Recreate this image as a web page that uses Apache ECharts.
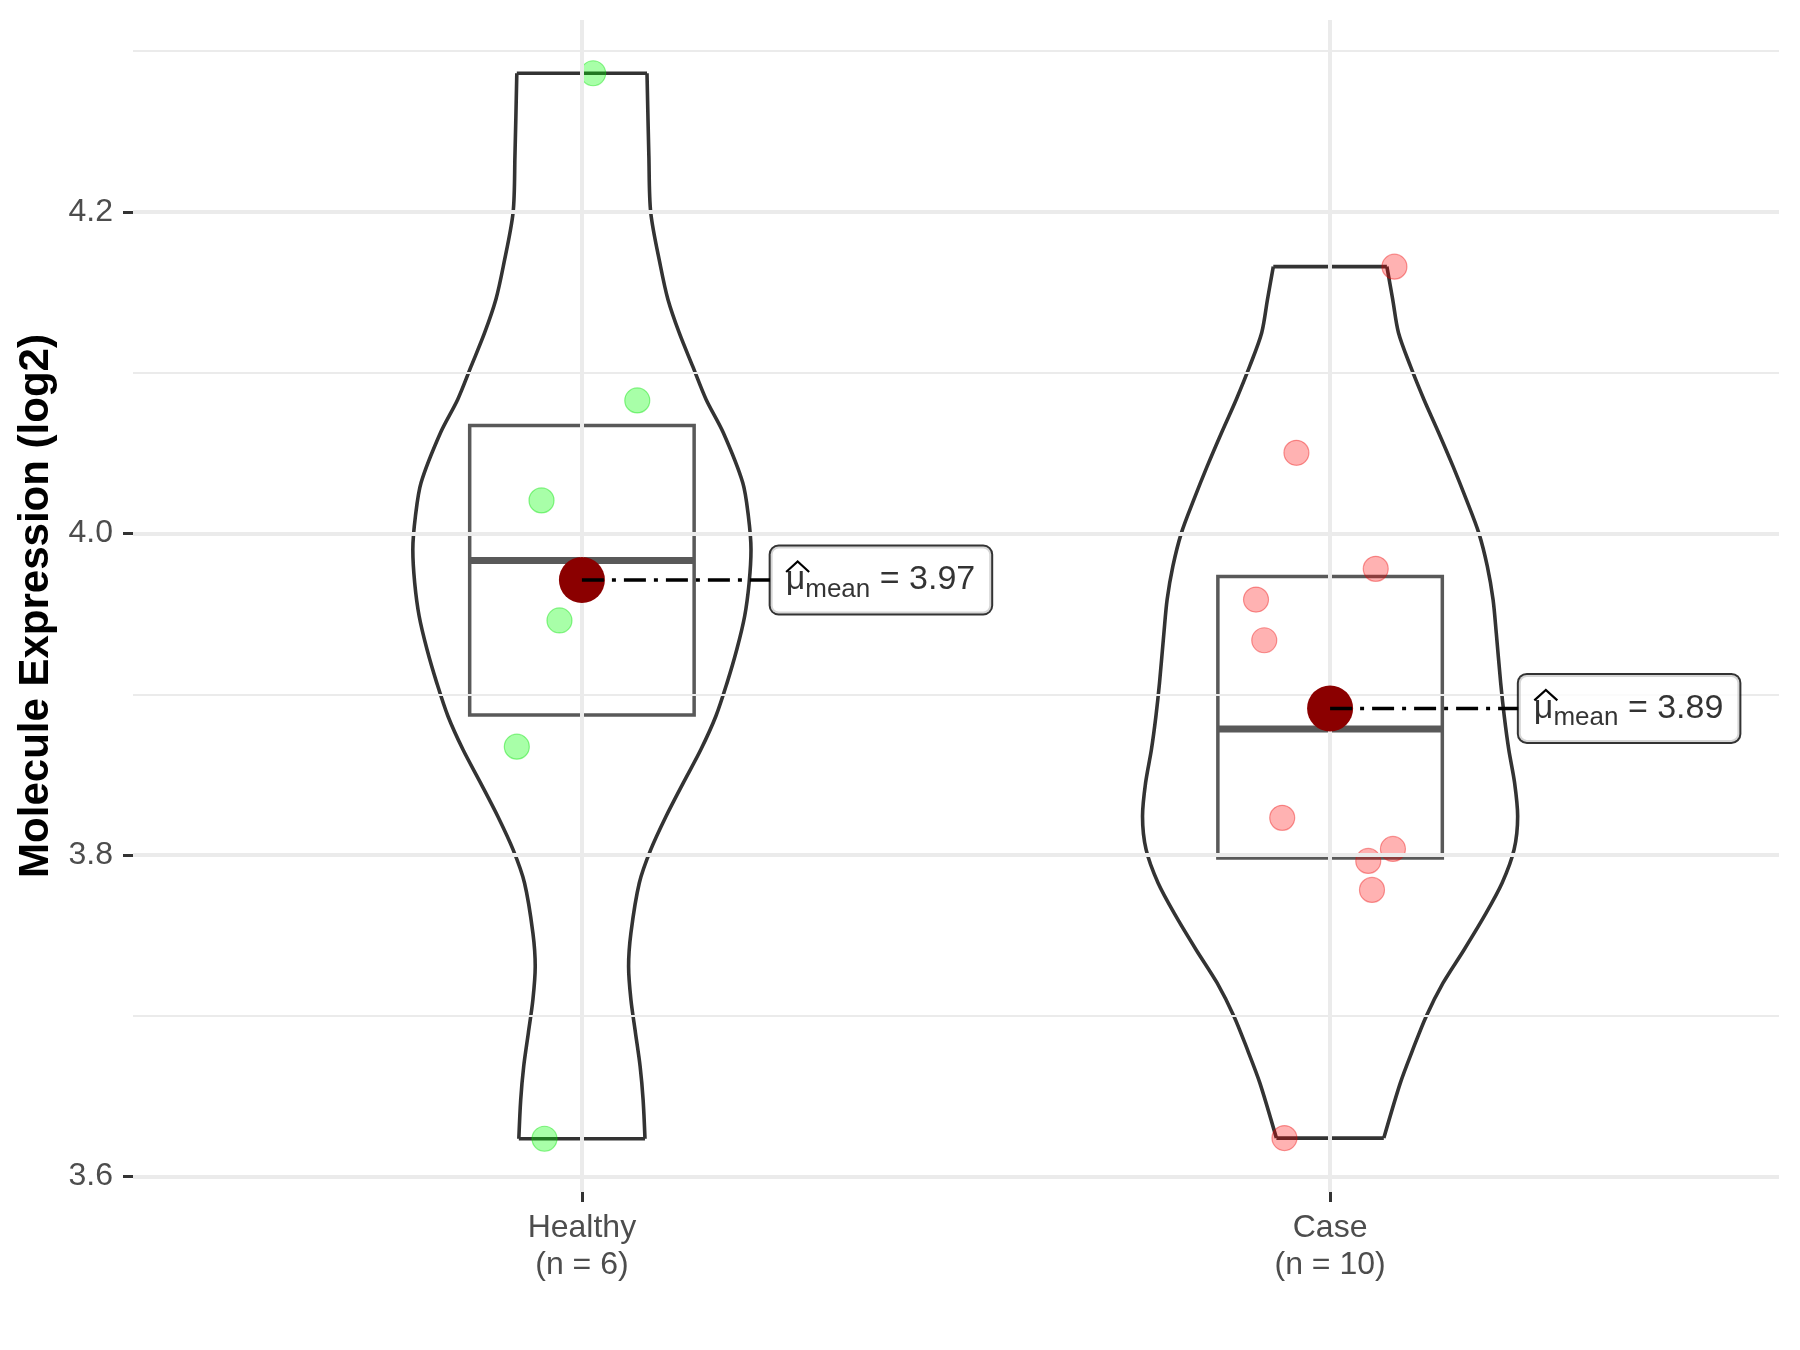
<!DOCTYPE html>
<html>
<head>
<meta charset="utf-8">
<script src="https://cdn.jsdelivr.net/npm/echarts@6/dist/echarts.min.js"></script>
<style>
  html, body { margin: 0; padding: 0; background: #ffffff; }
  #chart { width: 1800px; height: 1350px; }
</style>
</head>
<body>
<div id="chart"></div>
<script>
// ---------------- data ----------------
const categories = ['Healthy', 'Case'];

const healthyValues = [4.2863, 4.0828, 4.0206, 3.9459, 3.8674, 3.6235];
const healthyJitter = [0.015, 0.074, -0.054, -0.030, -0.087, -0.050];

const caseValues = [4.1660, 4.0502, 3.9780, 3.9589, 3.9336, 3.8231, 3.8038, 3.7963, 3.7783, 3.6239];
const caseJitter = [0.086, -0.045, 0.061, -0.099, -0.088, -0.064, 0.084, 0.051, 0.056, -0.061];

// violin outline: half-width (in category units) at each expression level
const healthyViolinLevels = [4.2863, 4.2349, 4.1996, 4.1664, 4.1456, 4.1249, 4.1041, 4.0834, 4.0627, 4.0316, 4.0108, 3.9900, 3.9693, 3.9485, 3.9278, 3.9071, 3.8863, 3.8656, 3.8449, 3.8241, 3.8033, 3.7826, 3.7515, 3.7307, 3.7100, 3.6893, 3.6685, 3.6477, 3.6235];
const healthyViolinHalfWidths = [0.087, 0.0895, 0.092, 0.105, 0.115, 0.130, 0.148, 0.166, 0.189, 0.215, 0.2225, 0.226, 0.2235, 0.2175, 0.207, 0.194, 0.179, 0.159, 0.1355, 0.1125, 0.092, 0.0767, 0.0655, 0.0624, 0.0655, 0.0716, 0.0778, 0.0818, 0.0843];

const caseViolinLevels = [4.1660, 4.1456, 4.1249, 4.1041, 4.0834, 4.0627, 4.0419, 4.0212, 4.0004, 3.9797, 3.9589, 3.9382, 3.9071, 3.8863, 3.8656, 3.8449, 3.8241, 3.8033, 3.7826, 3.7618, 3.7411, 3.7204, 3.6996, 3.6789, 3.6581, 3.6239];
const caseViolinHalfWidths = [0.0759, 0.0837, 0.0914, 0.1074, 0.1254, 0.1451, 0.1642, 0.1820, 0.1987, 0.2101, 0.2178, 0.2221, 0.2280, 0.2328, 0.2388, 0.2466, 0.2507, 0.2459, 0.2299, 0.2059, 0.1791, 0.1510, 0.1284, 0.1105, 0.0938, 0.0718];

const yTicks = [3.6, 3.8, 4.0, 4.2];
const yMinorTicks = [3.7, 3.9, 4.1, 4.3];
const yAxisTitle = 'Molecule Expression (log2)';

// ---------------- layout constants ----------------
const BOX_HALF = 0.15;
const LABEL_OFFSET = 0.2516;
const FONT = 'Liberation Sans, Arial, sans-serif';
const HAT = [[16, -8], [27.5, -18.5], [39, -8]];   // pixel offsets of the hat over mu

// ---------------- helpers ----------------
function mean(a) { return a.reduce((s, v) => s + v, 0) / a.length; }
function quantile(sorted, p) {
  const h = (sorted.length - 1) * p;
  const lo = Math.floor(h);
  const hi = Math.min(lo + 1, sorted.length - 1);
  return sorted[lo] + (h - lo) * (sorted[hi] - sorted[lo]);
}
function boxStats(values) {
  const s = values.slice().sort((a, b) => a - b);
  const q1 = quantile(s, 0.25), med = quantile(s, 0.5), q3 = quantile(s, 0.75);
  const iqr = q3 - q1;
  const lo = s.filter(v => v >= q1 - 1.5 * iqr)[0];
  const inside = s.filter(v => v <= q3 + 1.5 * iqr);
  const hi = inside[inside.length - 1];
  return { lo, q1, med, q3, hi };
}

const groups = [
  { name: categories[0], pos: 1, values: healthyValues, jitter: healthyJitter,
    levels: healthyViolinLevels, widths: healthyViolinHalfWidths,
    fill: 'rgba(0,255,0,0.34)', stroke: 'rgba(0,225,0,0.42)' },
  { name: categories[1], pos: 2, values: caseValues, jitter: caseJitter,
    levels: caseViolinLevels, widths: caseViolinHalfWidths,
    fill: 'rgba(255,0,0,0.30)', stroke: 'rgba(235,0,0,0.38)' }
];

const allValues = healthyValues.concat(caseValues);
const dMin = Math.min.apply(null, allValues), dMax = Math.max.apply(null, allValues);
const Y_MIN = dMin - 0.05 * (dMax - dMin);
const Y_MAX = dMax + 0.05 * (dMax - dMin);

// ---------------- series ----------------
const series = [];

// panel grid lines
series.push({
  type: 'line', data: [[1, 4.0]], symbol: 'none', silent: true, z: 0,
  lineStyle: { width: 0 },
  markLine: {
    silent: true, symbol: ['none', 'none'], animation: false, label: { show: false },
    data: []
      .concat(yTicks.map(v => ({ yAxis: v, lineStyle: { color: '#EBEBEB', width: 4, type: 'solid' } })))
      .concat(yMinorTicks.map(v => ({ yAxis: v, lineStyle: { color: '#EBEBEB', width: 2, type: 'solid' } })))
      .concat(groups.map(g => ({ xAxis: g.pos, lineStyle: { color: '#EBEBEB', width: 4, type: 'solid' } })))
  }
});

// violins
groups.forEach(g => {
  const right = g.levels.map((v, i) => [g.pos + g.widths[i], v]);
  const left = g.levels.map((v, i) => [g.pos - g.widths[i], v]);
  const n = g.levels.length;
  const ls = { color: '#333333', width: 3.6 };
  const base = { type: 'line', symbol: 'none', silent: true, z: 2, lineStyle: ls };
  series.push(Object.assign({}, base, { data: right, smooth: 0.3 }));
  series.push(Object.assign({}, base, { data: left, smooth: 0.3 }));
  series.push(Object.assign({}, base, { data: [left[0], right[0]] }));
  series.push(Object.assign({}, base, { data: [left[n - 1], right[n - 1]] }));
});

// boxes
series.push({
  type: 'custom', z: 3, silent: true,
  encode: { x: 0, y: [1, 2, 3, 4, 5] },
  data: groups.map(g => { const s = boxStats(g.values); return [g.pos, s.lo, s.q1, s.med, s.q3, s.hi]; }),
  renderItem: function (params, api) {
    const c = api.value(0);
    const lo = api.coord([c, api.value(1)]);
    const q1 = api.coord([c, api.value(2)]);
    const md = api.coord([c, api.value(3)]);
    const q3 = api.coord([c, api.value(4)]);
    const hi = api.coord([c, api.value(5)]);
    const left = api.coord([c - BOX_HALF, api.value(3)])[0];
    const right = api.coord([c + BOX_HALF, api.value(3)])[0];
    const st = { stroke: '#595959', lineWidth: 3.5, fill: null };
    return {
      type: 'group',
      children: [
        { type: 'line', shape: { x1: lo[0], y1: lo[1], x2: q1[0], y2: q1[1] }, style: st },
        { type: 'line', shape: { x1: q3[0], y1: q3[1], x2: hi[0], y2: hi[1] }, style: st },
        { type: 'rect', shape: { x: left, y: q3[1], width: right - left, height: q1[1] - q3[1] },
          style: { stroke: '#595959', lineWidth: 3.5, fill: 'rgba(0,0,0,0)' } },
        { type: 'line', shape: { x1: left, y1: md[1], x2: right, y2: md[1] },
          style: { stroke: '#595959', lineWidth: 7 } }
      ]
    };
  }
});

// jittered points
groups.forEach(g => {
  series.push({
    type: 'scatter', z: 4, silent: true, symbolSize: 25,
    data: g.values.map((v, i) => [g.pos + g.jitter[i], v]),
    itemStyle: { color: g.fill, borderColor: g.stroke, borderWidth: 1.2, opacity: 1 }
  });
});

// mean dots
series.push({
  type: 'scatter', z: 5, silent: true, symbolSize: 46,
  data: groups.map(g => [g.pos, mean(g.values)]),
  itemStyle: { color: '#8B0000', opacity: 1 }
});

// dot-dash connectors
groups.forEach(g => {
  const m = mean(g.values);
  series.push({
    type: 'line', z: 6, silent: true, symbol: 'none',
    data: [[g.pos, m], [g.pos + LABEL_OFFSET, m]],
    lineStyle: { color: '#000000', width: 3.5, type: [22, 8, 4, 8] }
  });
});

// mean labels
series.push({
  type: 'scatter', z: 7, silent: true, symbolSize: 1,
  itemStyle: { color: 'rgba(0,0,0,0)' },
  data: groups.map(g => [g.pos + LABEL_OFFSET, mean(g.values)]),
  label: {
    show: true, position: 'right', distance: 0,
    formatter: p => '{mu|\u03BC}{sub|mean}{main| = ' + p.value[1].toFixed(2) + '}',
    backgroundColor: '#ffffff', borderColor: '#000000', borderWidth: 2, borderRadius: 8,
    padding: [11, 16, 11, 15],
    rich: {
      mu: { fontFamily: FONT, fontSize: 34, lineHeight: 45, color: '#000' },
      sub: { fontFamily: FONT, fontSize: 26, lineHeight: 45, color: '#000', verticalAlign: 'bottom' },
      main: { fontFamily: FONT, fontSize: 34, lineHeight: 45, color: '#000' }
    }
  }
});

// hat over mu
series.push({
  type: 'custom', z: 8, silent: true,
  encode: { x: 0, y: 1 },
  data: groups.map(g => [g.pos + LABEL_OFFSET, mean(g.values)]),
  renderItem: function (params, api) {
    const p = api.coord([api.value(0), api.value(1)]);
    return {
      type: 'polyline', z2: 100,
      shape: { points: HAT.map(h => [p[0] + h[0], p[1] + h[1]]) },
      style: { stroke: '#000000', lineWidth: 2.2, fill: null }
    };
  }
});

// ---------------- chart ----------------
const chart = echarts.init(document.getElementById('chart'), null, { renderer: 'canvas' });
chart.setOption({
  animation: false,
  backgroundColor: '#ffffff',
  grid: { left: 133, right: 21, top: 20, bottom: 158 },
  xAxis: {
    type: 'value', min: 0.4, max: 2.6,
    axisLine: { show: false },
    splitLine: { show: false },
    axisTick: { show: true, customValues: groups.map(g => g.pos), length: 10, lineStyle: { color: '#333333', width: 3 } },
    axisLabel: {
      customValues: groups.map(g => g.pos),
      formatter: v => { const g = groups.find(x => x.pos === Math.round(v)); return g ? g.name + '\n(n = ' + g.values.length + ')' : ''; },
      fontFamily: FONT, fontSize: 32, lineHeight: 37, color: '#4D4D4D', margin: 18
    }
  },
  yAxis: {
    type: 'value', min: Y_MIN, max: Y_MAX,
    name: yAxisTitle, nameLocation: 'middle', nameRotate: 90, nameGap: 72,
    nameTextStyle: { fontFamily: FONT, fontSize: 42, fontWeight: 'bold', color: '#000000' },
    axisLine: { show: false },
    splitLine: { show: false },
    axisTick: { show: true, customValues: yTicks, length: 10, lineStyle: { color: '#333333', width: 3 } },
    axisLabel: {
      customValues: yTicks, formatter: v => v.toFixed(1),
      fontFamily: FONT, fontSize: 32, color: '#4D4D4D', margin: 20
    }
  },
  series: series
});
</script>
</body>
</html>
